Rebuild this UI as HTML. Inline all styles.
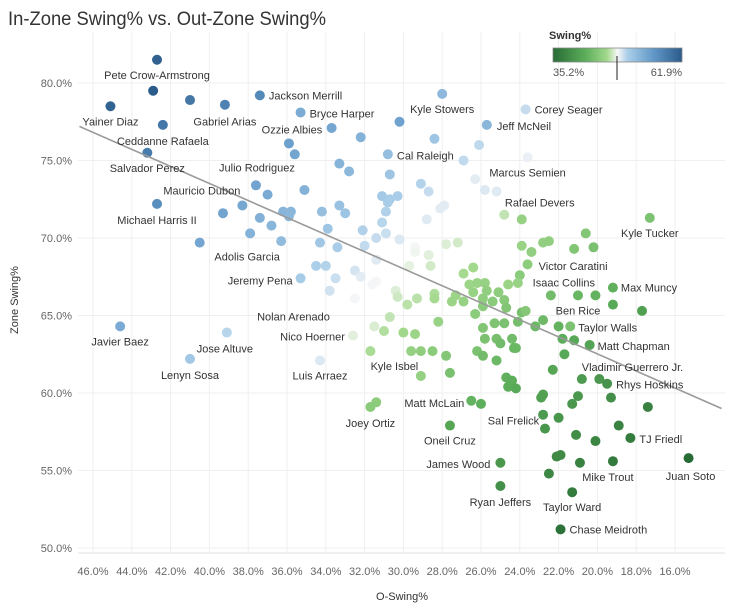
<!DOCTYPE html>
<html><head><meta charset="utf-8"><style>
html,body{margin:0;padding:0;background:#fff;}
svg{display:block;font-family:"Liberation Sans",sans-serif;}
</style></head><body>
<svg id="chart" width="734" height="608" viewBox="0 0 734 608" xmlns="http://www.w3.org/2000/svg">
<text x="8" y="25" font-size="19" fill="#333" textLength="318" lengthAdjust="spacingAndGlyphs">In-Zone Swing% vs. Out-Zone Swing%</text>
<g id="grid"></g>
<g id="axes"></g>
<g id="points"></g>
<g id="trend"></g>
<g id="labels"></g>
<g>
<defs><linearGradient id="lg" x1="0" x2="1" y1="0" y2="0">
<stop offset="0" stop-color="#276b35"/><stop offset="0.25" stop-color="#5cae5a"/><stop offset="0.42" stop-color="#a3d98d"/><stop offset="0.5" stop-color="#f7f7f7"/><stop offset="0.58" stop-color="#a9cde8"/><stop offset="0.78" stop-color="#6198c8"/><stop offset="1" stop-color="#2b5b8a"/>
</linearGradient></defs>
<text x="549" y="39" font-size="11" fill="#333" font-weight="bold">Swing%</text>
<rect x="553" y="48" width="129" height="14" fill="url(#lg)" stroke="#888" stroke-width="0.8"/>
<text x="553" y="76" font-size="11" fill="#555">35.2%</text>
<text x="682" y="76" font-size="11" fill="#555" text-anchor="end">61.9%</text>
<line x1="617" y1="56" x2="617" y2="80" stroke="#222" stroke-width="1"/>
</g>
</svg>
<script>
const xTicks = [46,44,42,40,38,36,34,32,30,28,26,24,22,20,18,16];
const yTicks = [80,75,70,65,60,55,50];
const playerNames = [
"Pete Crow-Armstrong","","Yainer Diaz","","Gabriel Arias","Ceddanne Rafaela","Salvador Perez","Jackson Merrill","Bryce Harper","Ozzie Albies",
"","Michael Harris II","Julio Rodriguez","","Mauricio Dubon","","","","","",
"","","","Adolis Garcia","","","","Kyle Stowers","","",
"","","Corey Seager","Jeff McNeil","","Cal Raleigh","","Marcus Semien","","",
"","","","","","","","","","",
"","","","","","","","Rafael Devers","","",
"","","","","","","","","","",
"","","","","","","","","","",
"","","","","","","","Jeremy Pena","Javier Baez","Jose Altuve",
"Lenyn Sosa","Luis Arraez","","","","Nolan Arenado","","","","",
"","","","","","","","","","",
"","","","","","","","","","",
"","","","","","","","","","",
"","","","","","","","Nico Hoerner","Kyle Isbel","",
"","","","","","","","","","",
"","","","Joey Ortiz","Matt McLain","","Oneil Cruz","James Wood","Sal Frelick","",
"Kyle Tucker","","Victor Caratini","","Isaac Collins","Ben Rice","","Max Muncy","","",
"","","","Taylor Walls","","","Matt Chapman","","Vladimir Guerrero Jr.","",
"","Rhys Hoskins","","","","","","","","",
"","","TJ Friedl","","","","Mike Trout","Juan Soto","","Ryan Jeffers",
"Taylor Ward","Chase Meidroth"];
const oSwing = [
42.7,42.9,45.1,41.0,39.2,42.4,43.2,37.4,35.3,35.9,
35.6,42.7,37.6,37.0,38.3,39.3,35.1,37.4,36.8,36.2,
35.8,35.9,34.2,37.9,40.5,36.3,34.3,28.0,33.7,30.2,
32.2,28.4,23.7,25.7,26.1,30.8,26.9,23.6,33.3,32.8,
30.7,26.3,29.1,28.7,25.8,25.2,31.1,30.7,30.8,30.3,
33.3,33.0,30.9,27.9,28.1,28.8,24.8,23.9,31.1,33.9,
32.1,30.9,31.4,30.2,33.4,32.0,29.4,29.4,27.8,27.2,
31.4,29.7,28.7,28.6,34.5,34.0,32.5,33.5,32.2,26.9,
26.4,23.4,23.9,23.6,24.0,22.8,22.5,35.3,44.6,39.1,
41.0,34.3,33.8,31.4,31.6,32.5,30.4,30.3,29.8,29.3,
28.4,28.4,27.5,27.3,26.9,26.6,26.4,26.2,25.8,25.9,
25.7,25.9,26.3,25.4,25.1,24.8,24.7,24.6,24.1,23.9,
23.7,24.1,24.8,25.3,25.9,25.8,25.2,25.0,24.4,24.3,
24.2,28.2,31.0,30.7,30.0,29.4,31.5,32.6,31.7,29.6,
29.1,28.5,27.8,27.6,29.1,26.2,25.9,25.2,24.7,24.4,
24.6,24.2,31.4,31.7,26.5,26.0,27.6,25.0,22.8,22.7,
17.3,20.6,21.2,20.2,22.4,21.0,20.1,19.2,19.2,17.7,
22.8,23.2,22.0,21.4,21.8,21.2,20.4,21.7,22.3,20.8,
19.9,19.5,22.8,22.9,21.0,21.3,19.3,17.4,22.0,18.9,
21.1,20.1,18.3,22.1,21.9,20.9,19.2,15.3,22.5,25.0,
21.3,21.9];
const zSwing = [
81.5,79.5,78.5,78.9,78.6,77.3,75.5,79.2,78.1,76.1,
75.4,72.2,73.4,72.8,72.1,71.6,73.1,71.3,70.8,71.7,
71.7,71.4,71.7,70.3,69.7,69.8,69.7,79.3,77.1,77.5,
76.5,76.4,78.3,77.3,76.0,75.4,75.0,75.2,74.8,74.3,
74.1,73.8,73.5,73.0,73.1,73.0,72.7,72.5,72.3,72.7,
72.1,71.6,71.7,72.1,71.9,71.2,71.5,71.2,71.0,70.6,
70.5,70.3,70.0,69.9,69.4,69.5,69.4,69.1,69.6,69.7,
68.6,68.2,68.9,68.2,68.2,68.2,67.9,67.4,67.5,67.7,
68.1,69.1,69.5,68.3,67.6,69.7,69.8,67.4,64.3,63.9,
62.2,62.1,66.6,67.2,67.0,66.1,66.6,66.2,65.7,66.1,
66.4,66.1,65.9,66.3,65.9,67.0,66.5,67.1,67.1,66.1,
66.6,65.6,65.1,65.9,66.5,66.0,65.5,67.0,67.1,65.2,
65.3,64.6,64.5,64.5,64.2,63.5,63.5,63.2,63.5,62.9,
62.9,64.6,64.0,64.9,63.9,63.8,64.3,63.7,62.7,62.7,
62.7,62.7,62.4,61.3,61.1,62.7,62.4,62.1,61.0,60.8,
60.4,60.3,59.4,59.1,59.5,59.3,57.9,55.5,58.6,57.7,
71.3,70.3,69.3,69.4,66.3,66.3,66.3,66.8,65.7,65.3,
64.7,64.3,64.3,64.3,63.5,63.4,63.1,62.5,61.5,60.9,
60.9,60.6,59.9,59.7,59.8,59.3,59.7,59.1,58.4,57.9,
57.3,56.9,57.1,55.9,56.0,55.5,55.6,55.8,54.8,54.0,
53.6,51.2];
const swingPct = [
61.3,61.9,61.2,59.2,58.1,59.1,58.7,57.4,54.0,55.2,
54.7,56.9,54.8,54.1,54.5,54.8,53.4,53.6,53.1,53.2,
53.0,52.9,52.2,53.4,54.6,52.4,51.3,52.7,54.5,55.0,
53.4,51.5,49.9,53.0,50.1,52.2,50.0,48.9,53.2,52.8,
51.6,49.1,50.4,49.9,49.3,49.2,51.1,50.8,50.7,50.7,
51.9,51.6,50.5,49.1,49.1,49.2,47.2,45.5,50.3,51.5,
50.5,49.8,49.9,49.3,50.7,50.0,48.6,48.4,47.9,47.6,
49.2,48.1,48.0,47.6,50.6,50.4,49.5,49.8,49.1,46.5,
46.4,45.4,45.8,45.1,44.9,45.4,45.3,50.8,54.1,50.3,
51.2,49.3,49.6,48.6,48.6,48.6,47.9,47.5,47.0,47.0,
46.7,46.5,45.9,46.0,45.6,46.0,45.7,45.8,45.6,45.2,
45.3,44.9,44.9,44.8,45.0,44.6,44.3,45.9,45.7,43.7,
44.5,43.5,43.9,44.1,44.3,43.9,43.6,43.3,43.2,42.8,
42.8,45.7,46.8,47.2,46.3,46.0,47.8,48.0,46.6,45.5,
45.2,44.9,44.4,43.8,45.5,44.0,43.4,42.9,42.1,41.9,
41.8,41.5,45.0,44.8,42.4,42.0,41.0,39.6,40.0,39.5,
44.0,44.4,44.3,43.8,43.4,42.7,42.3,42.1,41.5,40.5,
43.0,42.9,42.3,44.0,41.8,41.4,40.9,41.3,41.1,40.0,
39.6,39.2,40.7,40.6,39.6,39.6,38.7,37.4,39.4,37.6,
38.5,37.8,36.9,38.3,38.3,37.5,36.7,35.2,38.0,38.9,
36.8,36.0];
const trendO = [46.7, 13.6];
const trendZ = [77.2, 59.0];
const swingMin = 35.2, swingMax = 61.9;

const labelLayout = {
"Pete Crow-Armstrong":["middle",0,15],"Yainer Diaz":["middle",0,15],"Gabriel Arias":["middle",0,17],
"Ceddanne Rafaela":["middle",0,16],"Salvador Perez":["middle",0,15],"Michael Harris II":["middle",0,16],
"Jackson Merrill":["start",9,0],"Bryce Harper":["start",9,1],"Ozzie Albies":["middle",3,-14],
"Julio Rodriguez":["middle",1,-18],"Mauricio Dubon":["end",-2,-15],"Adolis Garcia":["middle",-3,23],
"Kyle Stowers":["middle",0,15],"Corey Seager":["start",9,0],"Jeff McNeil":["start",10,1],
"Cal Raleigh":["start",9,1],"Marcus Semien":["middle",0,15],"Rafael Devers":["middle",18,-17],
"Jeremy Pena":["end",-8,2],"Javier Baez":["middle",0,15],"Jose Altuve":["middle",-2,16],
"Lenyn Sosa":["middle",0,16],"Luis Arraez":["middle",0,15],"Nolan Arenado":["end",-25,18],
"Nico Hoerner":["end",-8,1],"Kyle Isbel":["middle",24,15],"Joey Ortiz":["middle",0,16],
"Matt McLain":["end",-7,2],"Oneil Cruz":["middle",0,15],"James Wood":["end",-10,1],
"Ryan Jeffers":["middle",0,16],"Sal Frelick":["end",-4,6],"Taylor Ward":["middle",0,15],
"Chase Meidroth":["start",9,0],"Mike Trout":["middle",-5,16],"Juan Soto":["middle",2,18],
"TJ Friedl":["start",9,1],"Rhys Hoskins":["start",9,1],"Vladimir Guerrero Jr.":["start",29,-3],
"Matt Chapman":["start",8,1],"Taylor Walls":["start",8,1],"Ben Rice":["middle",0,15],
"Isaac Collins":["middle",13,-13],"Max Muncy":["start",8,0],"Victor Caratini":["middle",-1,17],
"Kyle Tucker":["middle",0,15]
};

const NS = "http://www.w3.org/2000/svg";
const PL = 78, PR = 725, PT = 32, PB = 553;
function xScale(o){ return 93 + (46 - o) * 19.4; }
function yScale(z){ return 83 + (80 - z) * 15.5; }
function mk(tag, attrs, parent){ const e = document.createElementNS(NS, tag); for (const k in attrs) e.setAttribute(k, attrs[k]); parent.appendChild(e); return e; }
function hex(h){ return [parseInt(h.substr(1,2),16),parseInt(h.substr(3,2),16),parseInt(h.substr(5,2),16)]; }
const stops = [[0,"#276b35"],[0.25,"#5cae5a"],[0.42,"#a3d98d"],[0.5,"#f7f7f7"],[0.58,"#a9cde8"],[0.78,"#6198c8"],[1,"#2b5b8a"]];
function colorFor(s){
  let t = (s - swingMin) / (swingMax - swingMin); t = Math.max(0, Math.min(1, t));
  for (let i = 0; i < stops.length - 1; i++){
    if (t <= stops[i+1][0]){
      const f = (t - stops[i][0]) / (stops[i+1][0] - stops[i][0]);
      const a = hex(stops[i][1]), b = hex(stops[i+1][1]);
      return "rgb(" + a.map((v,j)=>Math.round(v + (b[j]-v)*f)).join(",") + ")";
    }
  }
  return stops[stops.length-1][1];
}

const grid = document.getElementById("grid");
const axes = document.getElementById("axes");
xTicks.forEach(v => {
  const x = xScale(v);
  const g = mk("line", {x1:x, x2:x, y1:PT, y2:PB, stroke:"#efefef", "stroke-width":1}, grid);
  
  
  const t = mk("text", {x:x, y:575, "font-size":11, fill:"#666", "text-anchor":"middle"}, axes);
  
  
  t.textContent = v.toFixed(1) + "%";
});
yTicks.forEach(v => {
  const y = yScale(v);
  const g = mk("line", {x1:PL, x2:PR, y1:y, y2:y, stroke:"#efefef", "stroke-width":1}, grid);
  
  
  const t = mk("text", {x:72, y:y+4, "font-size":11, fill:"#666", "text-anchor":"end"}, axes);
  
  
  t.textContent = v.toFixed(1) + "%";
});
const bl = mk("line", {x1:PL, x2:PR, y1:PB, y2:PB, stroke:"#e2e2e2", "stroke-width":1}, axes);


const xt = mk("text", {x:402, y:600, "font-size":11, fill:"#333", "text-anchor":"middle"}, axes);


xt.textContent = "O-Swing%";
const yt = mk("text", {x:0, y:0, "font-size":11, fill:"#333", "text-anchor":"middle", transform:"translate(18,300) rotate(-90)"}, axes);


yt.textContent = "Zone Swing%";

const pts = document.getElementById("points");
const labs = document.getElementById("labels");
for (let i = 0; i < oSwing.length; i++){
  const cx = xScale(oSwing[i]), cy = yScale(zSwing[i]);
  const c = mk("circle", {cx:cx, cy:cy, r:5, fill:colorFor(swingPct[i])}, pts);
  
  
  const nm = playerNames[i];
  if (nm && labelLayout[nm]){
    const L = labelLayout[nm];
    const t = mk("text", {x:cx + L[1], y:cy + L[2] + 4, "font-size":11, fill:"#333", "text-anchor":L[0]}, labs);
    
    
    t.textContent = nm;
  }
}
const tl = mk("line", {x1:xScale(trendO[0]), y1:yScale(trendZ[0]), x2:xScale(trendO[1]), y2:yScale(trendZ[1]), stroke:"#9a9a9a", "stroke-width":1.6}, document.getElementById("trend"));


</script>
</body></html>
